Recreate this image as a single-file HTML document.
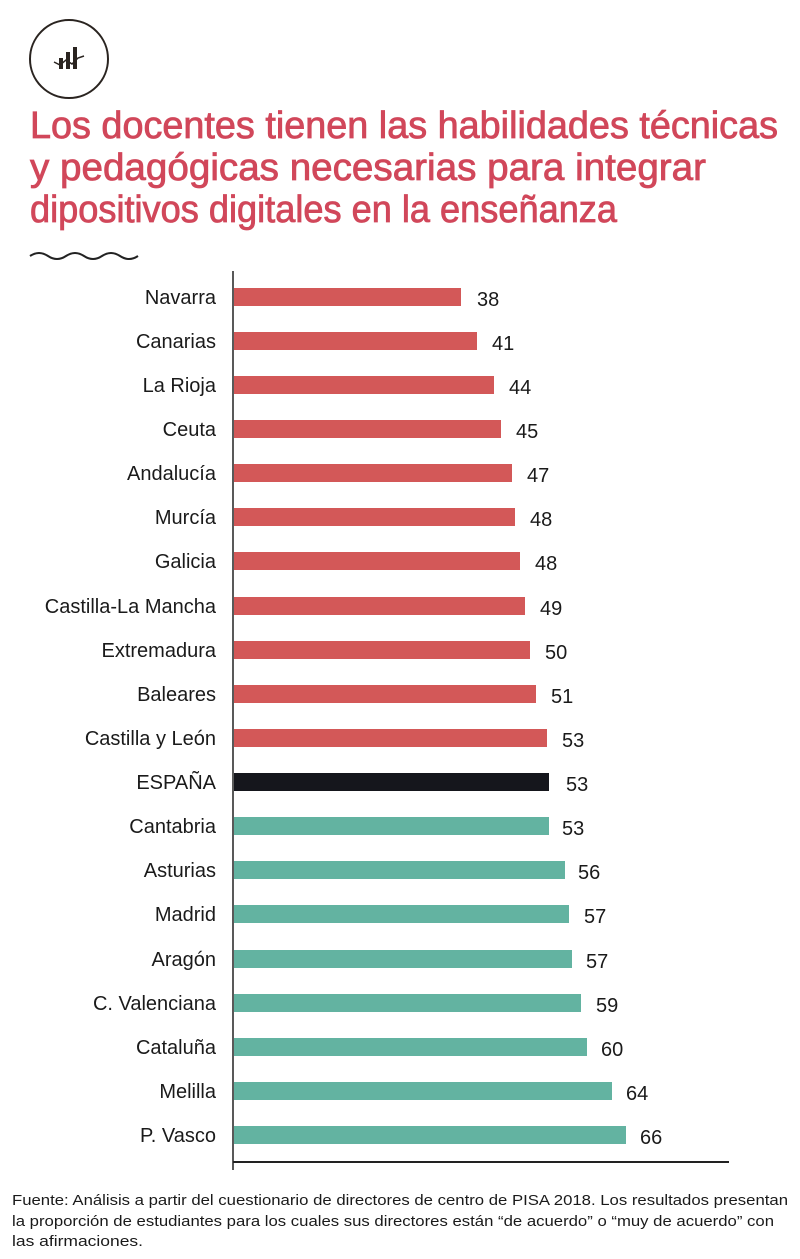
<!DOCTYPE html>
<html><head><meta charset="utf-8"><style>
html,body{margin:0;padding:0;background:#fff;}
svg{display:block;}
text{font-family:"Liberation Sans",sans-serif;}
</style></head><body>
<svg width="800" height="1259" viewBox="0 0 800 1259" xmlns="http://www.w3.org/2000/svg">
<circle cx="69" cy="59" r="39" fill="none" stroke="#2a2420" stroke-width="2"/>
<g fill="#2a2420">
<rect x="59" y="58" width="4" height="11"/><rect x="66" y="52" width="4" height="17"/><rect x="73" y="47" width="4" height="22"/>
</g>
<polyline points="54,62 60,65 66,60 72,64 78,58 84,56" fill="none" stroke="#2a2420" stroke-width="1.5"/>
<g font-size="38" fill="#d1475a" stroke="#d1475a" stroke-width="0.8">
<text x="30" y="138" textLength="748" lengthAdjust="spacingAndGlyphs">Los docentes tienen las habilidades técnicas</text>
<text x="30" y="180" textLength="676" lengthAdjust="spacingAndGlyphs">y pedagógicas necesarias para integrar</text>
<text x="30" y="222" textLength="587" lengthAdjust="spacingAndGlyphs">dipositivos digitales en la enseñanza</text>
</g>
<path d="M30,256 q9,-6 18,0 t18,0 t18,0 t18,0 t18,0 t18,0" fill="none" stroke="#222" stroke-width="2"/>
<line x1="233" y1="271" x2="233" y2="1170" stroke="#222" stroke-width="1.5"/>
<line x1="233" y1="1162" x2="729" y2="1162" stroke="#222" stroke-width="2"/>
<g font-size="20" fill="#1a1a1a">
<rect x="234" y="288" width="227" height="18" fill="#d35858"/><text x="216" y="304" text-anchor="end">Navarra</text><text x="477" y="306">38</text>
<rect x="234" y="332" width="243" height="18" fill="#d35858"/><text x="216" y="348" text-anchor="end">Canarias</text><text x="492" y="350">41</text>
<rect x="234" y="376" width="260" height="18" fill="#d35858"/><text x="216" y="392" text-anchor="end">La Rioja</text><text x="509" y="394">44</text>
<rect x="234" y="420" width="267" height="18" fill="#d35858"/><text x="216" y="436" text-anchor="end">Ceuta</text><text x="516" y="438">45</text>
<rect x="234" y="464" width="278" height="18" fill="#d35858"/><text x="216" y="480" text-anchor="end">Andalucía</text><text x="527" y="482">47</text>
<rect x="234" y="508" width="281" height="18" fill="#d35858"/><text x="216" y="524" text-anchor="end">Murcía</text><text x="530" y="526">48</text>
<rect x="234" y="552" width="286" height="18" fill="#d35858"/><text x="216" y="568" text-anchor="end">Galicia</text><text x="535" y="570">48</text>
<rect x="234" y="597" width="291" height="18" fill="#d35858"/><text x="216" y="613" text-anchor="end">Castilla-La Mancha</text><text x="540" y="615">49</text>
<rect x="234" y="641" width="296" height="18" fill="#d35858"/><text x="216" y="657" text-anchor="end">Extremadura</text><text x="545" y="659">50</text>
<rect x="234" y="685" width="302" height="18" fill="#d35858"/><text x="216" y="701" text-anchor="end">Baleares</text><text x="551" y="703">51</text>
<rect x="234" y="729" width="313" height="18" fill="#d35858"/><text x="216" y="745" text-anchor="end">Castilla y León</text><text x="562" y="747">53</text>
<rect x="234" y="773" width="315" height="18" fill="#15161c"/><text x="216" y="789" text-anchor="end">ESPAÑA</text><text x="566" y="791">53</text>
<rect x="234" y="817" width="315" height="18" fill="#63b3a1"/><text x="216" y="833" text-anchor="end">Cantabria</text><text x="562" y="835">53</text>
<rect x="234" y="861" width="331" height="18" fill="#63b3a1"/><text x="216" y="877" text-anchor="end">Asturias</text><text x="578" y="879">56</text>
<rect x="234" y="905" width="335" height="18" fill="#63b3a1"/><text x="216" y="921" text-anchor="end">Madrid</text><text x="584" y="923">57</text>
<rect x="234" y="950" width="338" height="18" fill="#63b3a1"/><text x="216" y="966" text-anchor="end">Aragón</text><text x="586" y="968">57</text>
<rect x="234" y="994" width="347" height="18" fill="#63b3a1"/><text x="216" y="1010" text-anchor="end">C. Valenciana</text><text x="596" y="1012">59</text>
<rect x="234" y="1038" width="353" height="18" fill="#63b3a1"/><text x="216" y="1054" text-anchor="end">Cataluña</text><text x="601" y="1056">60</text>
<rect x="234" y="1082" width="378" height="18" fill="#63b3a1"/><text x="216" y="1098" text-anchor="end">Melilla</text><text x="626" y="1100">64</text>
<rect x="234" y="1126" width="392" height="18" fill="#63b3a1"/><text x="216" y="1142" text-anchor="end">P. Vasco</text><text x="640" y="1144">66</text>
</g>
<g font-size="15" fill="#1a1a1a">
<text x="12" y="1205" textLength="776" lengthAdjust="spacingAndGlyphs">Fuente: Análisis a partir del cuestionario de directores de centro de PISA 2018. Los resultados presentan</text>
<text x="12" y="1226" textLength="762" lengthAdjust="spacingAndGlyphs">la proporción de estudiantes para los cuales sus directores están “de acuerdo” o “muy de acuerdo” con</text>
<text x="12" y="1246" textLength="131" lengthAdjust="spacingAndGlyphs">las afirmaciones.</text>
</g>
</svg>
</body></html>
